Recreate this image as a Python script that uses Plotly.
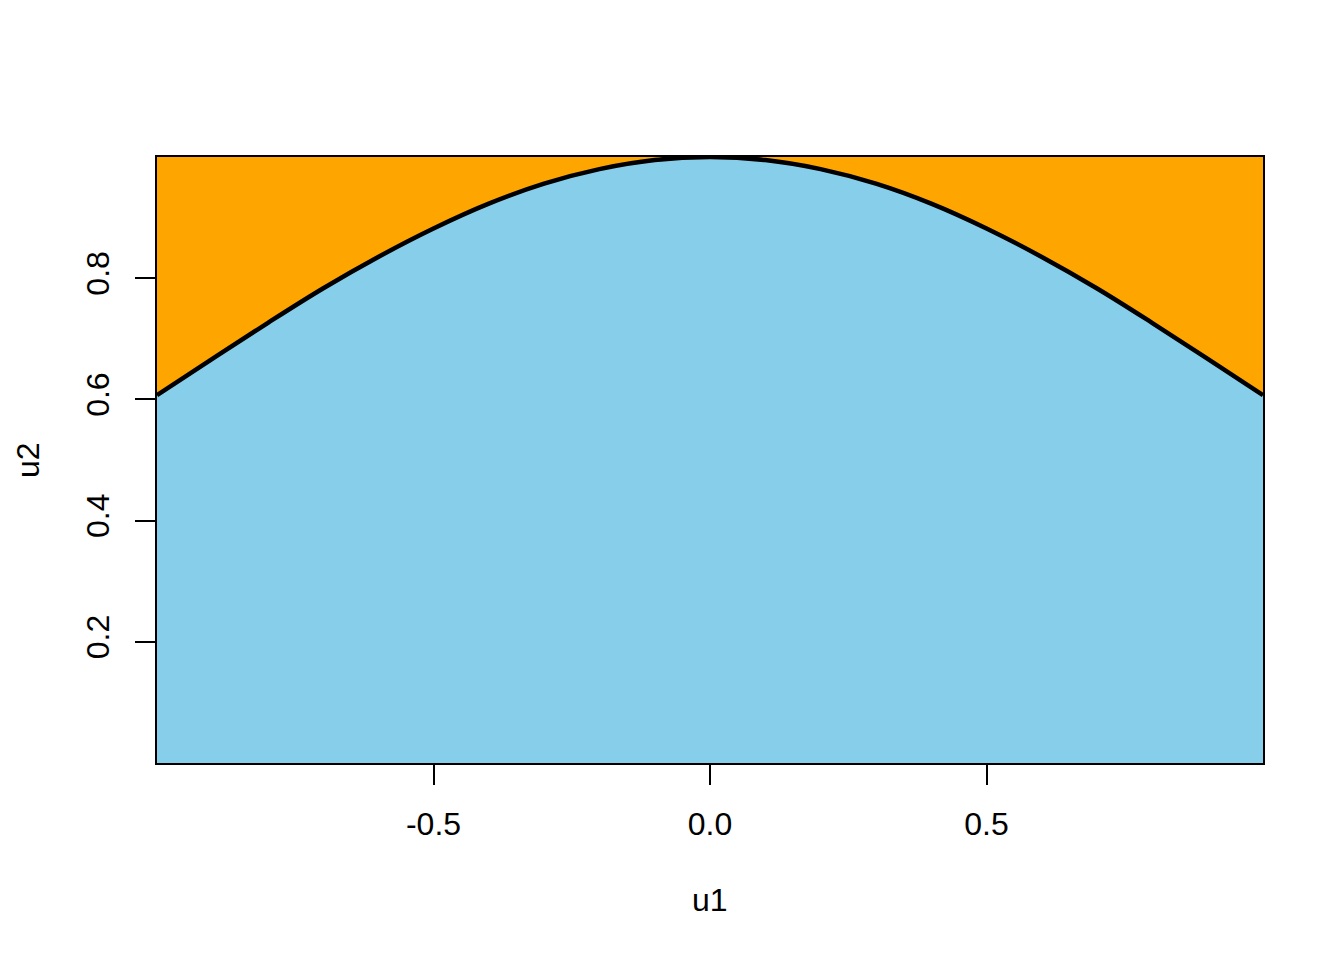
import plotly.graph_objects as go

# Curve (boundary between accepted/rejected)
curve_u1 = [-1.0, -0.9, -0.8, -0.7, -0.6, -0.5, -0.4, -0.3, -0.2, -0.1, 0.0,
            0.1, 0.2, 0.3, 0.4, 0.5, 0.6, 0.7, 0.8, 0.9, 1.0]
curve_u2 = [0.607, 0.667, 0.726, 0.783, 0.835, 0.882, 0.923, 0.956, 0.980, 0.995, 1.0,
            0.995, 0.980, 0.956, 0.923, 0.882, 0.835, 0.783, 0.726, 0.667, 0.607]

x_ticks = [-0.5, 0.0, 0.5]
x_tick_labels = ["-0.5", "0.0", "0.5"]
y_ticks = [0.2, 0.4, 0.6, 0.8]
y_tick_labels = ["0.2", "0.4", "0.6", "0.8"]

FONT = "Liberation Sans, Arial, sans-serif"
SKY = "#87CEEB"
ORANGE = "#FFA500"

fig = go.Figure()
fig.add_trace(go.Scatter(x=curve_u1, y=curve_u2, mode="lines",
                         line=dict(color=SKY, width=0, shape="spline"),
                         fill="tozeroy", fillcolor=SKY, hoverinfo="skip"))
fig.add_trace(go.Scatter(x=curve_u1, y=curve_u2, mode="lines",
                         line=dict(color="black", width=4.5, shape="spline"),
                         hoverinfo="skip"))

fig.update_layout(
    width=1344, height=960,
    margin=dict(l=149, r=89, t=149, b=205),
    paper_bgcolor="white", plot_bgcolor=ORANGE,
    showlegend=False,
    font=dict(family=FONT, size=32, color="black"),
    xaxis=dict(range=[-1, 1], tickvals=x_ticks, ticktext=x_tick_labels,
               ticks="outside", ticklen=20, tickwidth=2, tickcolor="black",
               showline=True, linecolor="black", linewidth=2, mirror=True,
               showgrid=False, zeroline=False, ticklabelstandoff=12),
    yaxis=dict(range=[0, 1], tickvals=y_ticks, ticktext=y_tick_labels,
               ticks="outside", ticklen=20, tickwidth=2, tickcolor="black",
               showline=True, linecolor="black", linewidth=2, mirror=True,
               showgrid=False, zeroline=False, tickangle=-90, ticklabelstandoff=13),
    annotations=[
        dict(text="u1", xref="paper", yref="paper", x=0.5, y=-(900 - 763) / 606,
             showarrow=False, xanchor="center", yanchor="middle",
             font=dict(family=FONT, size=32)),
        dict(text="u2", xref="paper", yref="paper", x=-(157 - 28) / 1106, y=0.5,
             showarrow=False, xanchor="center", yanchor="middle", textangle=-90,
             font=dict(family=FONT, size=32)),
    ],
)

fig.write_html("out.html")
